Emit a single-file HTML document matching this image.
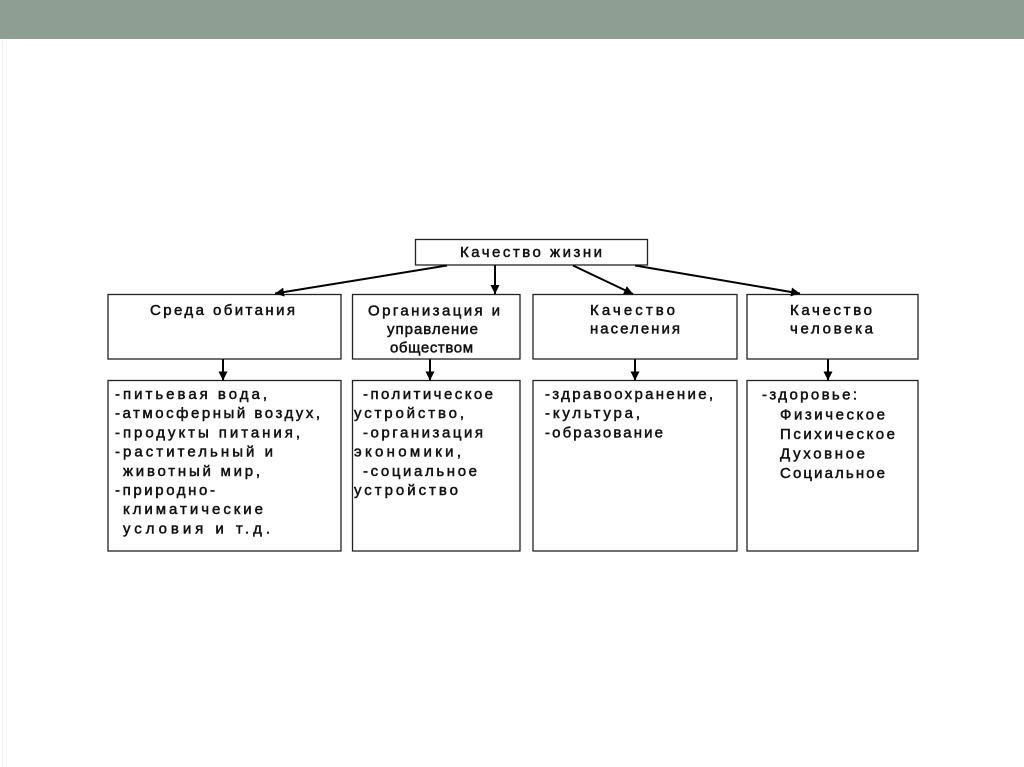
<!DOCTYPE html>
<html><head><meta charset="utf-8"><style>
html,body{margin:0;padding:0;background:#fff;width:1024px;height:767px;overflow:hidden}
svg{display:block}
text{font-family:"Liberation Sans","DejaVu Sans",sans-serif;font-size:15px;fill:#111;stroke:#111;stroke-width:0.5}
</style></head><body>
<svg width="1024" height="767" viewBox="0 0 1024 767" xmlns="http://www.w3.org/2000/svg">
<rect x="0" y="0" width="1024" height="39" fill="#8f9e93"/>
<line x1="2.5" y1="39" x2="2.5" y2="767" stroke="#f0f0f0" stroke-width="1"/>
<line x1="6.5" y1="39" x2="6.5" y2="767" stroke="#f4f4f4" stroke-width="1"/>
<defs>
<marker id="ah" viewBox="0 0 10 10" refX="10" refY="5" markerWidth="9" markerHeight="9" markerUnits="userSpaceOnUse" orient="auto">
<path d="M0,0 L10,5 L0,10 z" fill="#000"/>
</marker>
</defs>
<g fill="#fff" stroke="#222" stroke-width="1.3">
<rect x="415.5" y="239.5" width="232" height="25.5"/>
<rect x="108" y="294.5" width="233" height="64.5"/>
<rect x="352.5" y="294.5" width="167.5" height="64.5"/>
<rect x="533" y="294.5" width="204" height="64.5"/>
<rect x="747" y="294.5" width="171" height="64.5"/>
<rect x="108" y="380.5" width="233" height="170.5"/>
<rect x="352.5" y="380.5" width="167.5" height="170.5"/>
<rect x="533" y="380.5" width="204" height="170.5"/>
<rect x="747" y="380.5" width="171" height="170.5"/>
</g>
<g stroke="#000" stroke-width="2" marker-end="url(#ah)">
<line x1="447" y1="265.5" x2="275" y2="293.5"/>
<line x1="495" y1="265.5" x2="495" y2="294"/>
<line x1="573" y1="265.5" x2="633" y2="294"/>
<line x1="635" y1="265.5" x2="800" y2="293.5"/>
<line x1="223" y1="359.5" x2="223" y2="380.5"/>
<line x1="430" y1="359.5" x2="430" y2="380.5"/>
<line x1="635" y1="359.5" x2="635" y2="380.5"/>
<line x1="828" y1="359.5" x2="828" y2="380.5"/>
</g>
<text x="460" y="257" textLength="142" lengthAdjust="spacing">Качество жизни</text>
<text x="150" y="315" textLength="145" lengthAdjust="spacing">Среда обитания</text>
<text x="368" y="315.5" textLength="132" lengthAdjust="spacing">Организация и</text>
<text x="387" y="334" textLength="91" lengthAdjust="spacing">управление</text>
<text x="390" y="352.7" textLength="83" lengthAdjust="spacing">обществом</text>
<text x="590" y="315" textLength="85" lengthAdjust="spacing">Качество</text>
<text x="590" y="333.5" textLength="90" lengthAdjust="spacing">населения</text>
<text x="790" y="315" textLength="82" lengthAdjust="spacing">Качество</text>
<text x="790" y="333.5" textLength="83" lengthAdjust="spacing">человека</text>

<text x="115" y="399" textLength="152" lengthAdjust="spacing">-питьевая вода,</text>
<text x="115" y="418.2" textLength="205" lengthAdjust="spacing">-атмосферный воздух,</text>
<text x="115" y="437.4" textLength="185" lengthAdjust="spacing">-продукты питания,</text>
<text x="115" y="456.6" textLength="158" lengthAdjust="spacing">-растительный и</text>
<text x="123" y="475.8" textLength="137" lengthAdjust="spacing">животный мир,</text>
<text x="115" y="495" textLength="100" lengthAdjust="spacing">-природно-</text>
<text x="123" y="514.2" textLength="140" lengthAdjust="spacing">климатические</text>
<text x="123" y="533.4" textLength="147" lengthAdjust="spacing">условия и т.д.</text>

<text x="363" y="399" textLength="130" lengthAdjust="spacing">-политическое</text>
<text x="354" y="418.2" textLength="110" lengthAdjust="spacing">устройство,</text>
<text x="363" y="437.4" textLength="120" lengthAdjust="spacing">-организация</text>
<text x="354" y="456.6" textLength="107" lengthAdjust="spacing">экономики,</text>
<text x="363" y="475.8" textLength="114" lengthAdjust="spacing">-социальное</text>
<text x="354" y="495" textLength="104" lengthAdjust="spacing">устройство</text>

<text x="545" y="399" textLength="168" lengthAdjust="spacing">-здравоохранение,</text>
<text x="545" y="418.2" textLength="95" lengthAdjust="spacing">-культура,</text>
<text x="545" y="437.4" textLength="118" lengthAdjust="spacing">-образование</text>

<text x="762" y="399.5" textLength="95" lengthAdjust="spacing">-здоровье:</text>
<text x="780" y="419.5" textLength="105" lengthAdjust="spacing">Физическое</text>
<text x="780" y="439" textLength="115" lengthAdjust="spacing">Психическое</text>
<text x="780" y="458.5" textLength="85" lengthAdjust="spacing">Духовное</text>
<text x="780" y="478" textLength="105" lengthAdjust="spacing">Социальное</text>
</svg>
</body></html>
